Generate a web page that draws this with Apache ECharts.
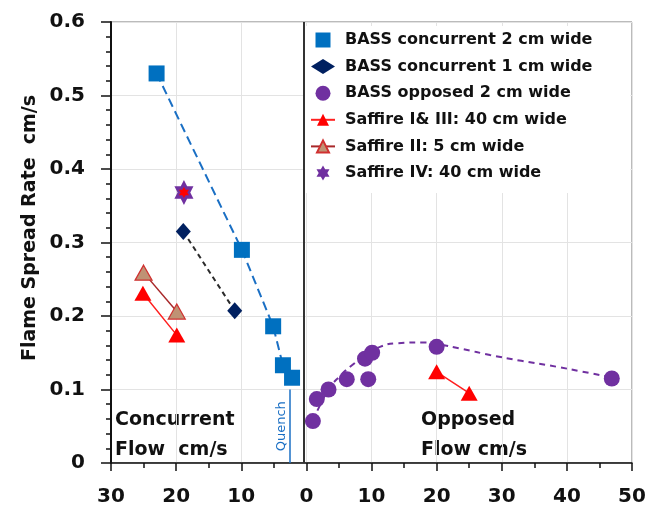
<!DOCTYPE html>
<html>
<head>
<meta charset="utf-8">
<script src="https://cdn.jsdelivr.net/npm/echarts@6/dist/echarts.min.js"></script>
<style>
html,body{margin:0;padding:0;background:#fff;}
#chart{width:649px;height:515px;}
</style>
</head>
<body>
<div id="chart"></div>
<script>
// Concurrent flow is plotted on negative x (labels shown as absolute values)
const xTicks = [-30, -20, -10, 0, 10, 20, 30, 40, 50];
const yTicks = [0, 0.1, 0.2, 0.3, 0.4, 0.5, 0.6];

const bassConc2 = [[-23.0, 0.530], [-9.9, 0.290], [-5.1, 0.186], [-3.6, 0.133], [-2.2, 0.116]];
const bassConc1 = [[-18.9, 0.315], [-11.0, 0.207]];
const bassOpp2 = [[1.0, 0.057], [1.6, 0.087], [3.4, 0.100], [6.2, 0.114], [9.5, 0.114], [9.0, 0.142], [10.1, 0.150], [20.0, 0.158], [46.9, 0.115]];
const saffire13 = [[-25.1, 0.231], [-19.9, 0.174], ['-', '-'], [20.0, 0.124], [25.0, 0.095]];
const saffire2 = [[-25.0, 0.259], [-19.9, 0.206]];
const saffire4 = [[-18.8, 0.368]];
const oppTrend = [[1.0, 0.058], [1.9, 0.075], [3.4, 0.100], [5.0, 0.117], [7.0, 0.133], [9.0, 0.146], [11.3, 0.158], [14.0, 0.163], [18.0, 0.164], [20.0, 0.162], [24.0, 0.155], [28.2, 0.147], [33.0, 0.139], [38.4, 0.131], [42.0, 0.125], [46.6, 0.117]];
const zeroLineX = -0.4;
const quenchX = -2.5;

const names = ['BASS concurrent 2 cm wide', 'BASS concurrent 1 cm wide', 'BASS opposed 2 cm wide',
  'Saffire I& III: 40 cm wide', 'Saffire II: 5 cm wide', 'Saffire IV: 40 cm wide'];

const FONT = 'DejaVu Sans';
const star = 'path://M0,-10 L2.887,-5 L8.66,-5 L5.774,0 L8.66,5 L2.887,5 L0,10 L-2.887,5 L-8.66,5 L-5.774,0 L-8.66,-5 L-2.887,-5 Z';
const square = 'path://M0,0 L10,0 L10,10 L0,10 Z';

const chart = echarts.init(document.getElementById('chart'));
chart.setOption({
  animation: false,
  backgroundColor: '#fff',
  grid: { left: 111, right: 17, top: 22, bottom: 52, show: true, borderColor: '#777', borderWidth: 1 },
  xAxis: {
    type: 'value', min: xTicks[0], max: xTicks[xTicks.length - 1], interval: 10,
    axisLine: { show: true, onZero: false, lineStyle: { color: '#111', width: 1.5 } },
    axisTick: { show: true, length: 8, lineStyle: { color: '#111', width: 1.5 } },
    minorTick: { show: true, splitNumber: 2, length: 5, lineStyle: { color: '#111', width: 1.5 } },
    splitLine: { show: true, lineStyle: { color: '#e3e3e3', width: 1 } },
    axisLabel: { formatter: v => String(Math.abs(v)), fontFamily: FONT, fontWeight: 'bold', fontSize: 20, color: '#111', margin: 24 }
  },
  yAxis: {
    type: 'value', min: yTicks[0], max: yTicks[yTicks.length - 1], interval: 0.1,
    axisLine: { show: true, onZero: false, lineStyle: { color: '#111', width: 2 } },
    axisTick: { show: true, length: 10, lineStyle: { color: '#111', width: 1.5 } },
    minorTick: { show: true, splitNumber: 5, length: 5, lineStyle: { color: '#111', width: 1.5 } },
    splitLine: { show: true, lineStyle: { color: '#e3e3e3', width: 1 } },
    axisLabel: { formatter: v => v === 0 ? '0' : v.toFixed(1), fontFamily: FONT, fontWeight: 'bold', fontSize: 20, color: '#111', margin: 26 }
  },
  legend: {
    orient: 'vertical', left: 305, top: 26, padding: [4, 38, 10, 5],
    backgroundColor: '#fff', itemWidth: 24, itemHeight: 15, itemGap: 6.6,
    data: names,
    textStyle: { fontFamily: FONT, fontWeight: 'bold', fontSize: 16, color: '#111', lineHeight: 20, padding: [0, 0, 0, 5] }
  },
  graphic: [
    { type: 'text', x: 30, y: 228, rotation: Math.PI / 2,
      style: { text: 'Flame Spread Rate  cm/s', font: 'bold 19px "DejaVu Sans"', fill: '#111', align: 'center', verticalAlign: 'middle' } },
    { type: 'text', x: 115, y: 405,
      style: { text: 'Concurrent\nFlow  cm/s', font: 'bold 19px "DejaVu Sans"', lineHeight: 30, fill: '#111' } },
    { type: 'text', x: 421, y: 405,
      style: { text: 'Opposed\nFlow cm/s', font: 'bold 19px "DejaVu Sans"', lineHeight: 30, fill: '#111' } }
  ],
  series: [
    { name: 'conc2trend', type: 'line', data: bassConc2, symbol: 'none', silent: true, z: 1,
      lineStyle: { color: '#1a6fc4', width: 2, type: [9, 5] },
      markLine: { silent: true, symbol: 'none',
        lineStyle: { color: '#1a6fc4', width: 1.5, type: 'solid' },
        label: { show: true, formatter: 'Quench', position: 'insideMiddleTop', color: '#1a6fc4', fontFamily: FONT, fontSize: 13, distance: 2 },
        data: [[{ coord: [quenchX, 0] }, { coord: [quenchX, 0.1] }]] } },
    { name: 'conc1trend', type: 'line', data: bassConc1, symbol: 'none', silent: true, z: 1,
      lineStyle: { color: '#2a2a2a', width: 2, type: [5, 4] } },
    { name: 'opptrend', type: 'line', data: oppTrend, smooth: true, symbol: 'none', silent: true, z: 1,
      lineStyle: { color: '#7030a0', width: 2, type: [6, 5] },
      markLine: { silent: true, symbol: 'none', label: { show: false },
        lineStyle: { color: '#333', width: 2, type: 'solid' },
        data: [{ xAxis: zeroLineX }] } },
    { name: names[0], type: 'scatter', data: bassConc2, symbol: square, symbolSize: 16, symbolKeepAspect: true,
      itemStyle: { color: '#0070c0', opacity: 1 } },
    { name: names[1], type: 'scatter', data: bassConc1, symbol: 'diamond', symbolSize: [15, 17], symbolKeepAspect: true,
      itemStyle: { color: '#002060', opacity: 1 } },
    { name: names[2], type: 'scatter', data: bassOpp2, symbol: 'circle', symbolSize: 16, symbolKeepAspect: true,
      itemStyle: { color: '#7030a0', opacity: 1 } },
    { name: names[3], type: 'line', data: saffire13, symbol: 'triangle', symbolSize: [17, 15], showSymbol: true,
      connectNulls: false,
      itemStyle: { color: '#ff0000', opacity: 1 }, lineStyle: { color: '#ff2020', width: 1.5 } },
    { name: names[4], type: 'line', data: saffire2, symbol: 'triangle', symbolSize: [17, 15],
      itemStyle: { color: '#bf9274', borderColor: '#d03030', borderWidth: 1.2, opacity: 1 }, lineStyle: { color: '#a8282a', width: 1.5 } },
    { name: names[5], type: 'scatter', data: saffire4, symbol: star, symbolSize: [22, 25], symbolKeepAspect: true,
      itemStyle: { color: '#7030a0', opacity: 1 } },
    { name: 'saffire4inner', type: 'scatter', data: saffire4, symbol: star, symbolSize: [10, 11], silent: true,
      itemStyle: { color: '#ff0000', opacity: 1 } }
  ]
});
</script>
</body>
</html>
